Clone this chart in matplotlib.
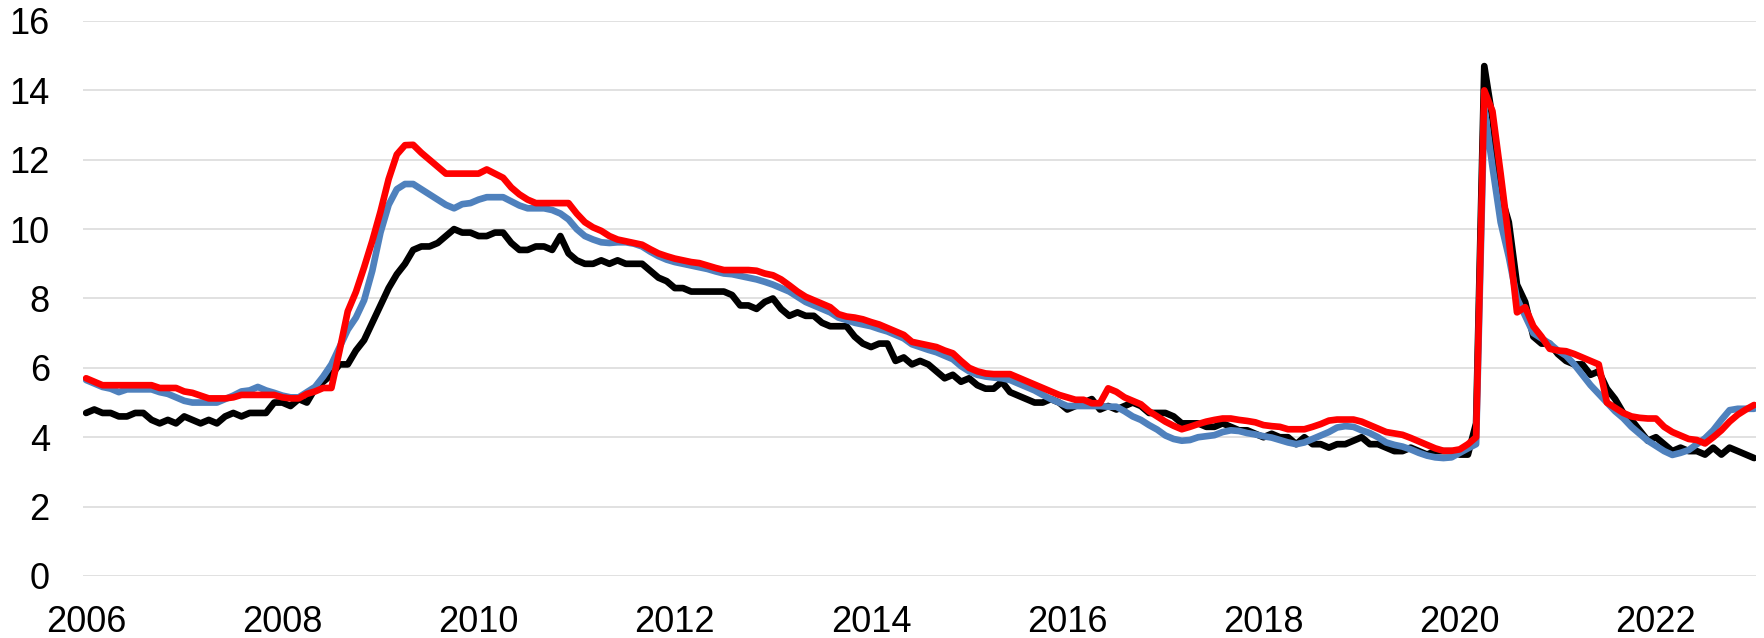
import matplotlib
matplotlib.use("Agg")
import matplotlib.pyplot as plt
import numpy as np

# monthly series, Jan 2006 .. Jan 2023
start_year = 2006
actual = [
    4.7, 4.8, 4.7, 4.7, 4.6, 4.6, 4.7, 4.7, 4.5, 4.4, 4.5, 4.4,
    4.6, 4.5, 4.4, 4.5, 4.4, 4.6, 4.7, 4.6, 4.7, 4.7, 4.7, 5.0,
    5.0, 4.9, 5.1, 5.0, 5.4, 5.6, 5.8, 6.1, 6.1, 6.5, 6.8, 7.3,
    7.8, 8.3, 8.7, 9.0, 9.4, 9.5, 9.5, 9.6, 9.8, 10.0, 9.9, 9.9,
    9.8, 9.8, 9.9, 9.9, 9.6, 9.4, 9.4, 9.5, 9.5, 9.4, 9.8, 9.3,
    9.1, 9.0, 9.0, 9.1, 9.0, 9.1, 9.0, 9.0, 9.0, 8.8, 8.6, 8.5,
    8.3, 8.3, 8.2, 8.2, 8.2, 8.2, 8.2, 8.1, 7.8, 7.8, 7.7, 7.9,
    8.0, 7.7, 7.5, 7.6, 7.5, 7.5, 7.3, 7.2, 7.2, 7.2, 6.9, 6.7,
    6.6, 6.7, 6.7, 6.2, 6.3, 6.1, 6.2, 6.1, 5.9, 5.7, 5.8, 5.6,
    5.7, 5.5, 5.4, 5.4, 5.6, 5.3, 5.2, 5.1, 5.0, 5.0, 5.1, 5.0,
    4.8, 4.9, 5.0, 5.1, 4.8, 4.9, 4.8, 4.9, 5.0, 4.9, 4.7, 4.7,
    4.7, 4.6, 4.4, 4.4, 4.4, 4.3, 4.3, 4.4, 4.3, 4.2, 4.2, 4.1,
    4.0, 4.1, 4.0, 4.0, 3.8, 4.0, 3.8, 3.8, 3.7, 3.8, 3.8, 3.9,
    4.0, 3.8, 3.8, 3.7, 3.6, 3.6, 3.7, 3.6, 3.5, 3.6, 3.6, 3.6,
    3.5, 3.5, 4.4, 14.7, 13.2, 11.0, 10.2, 8.4, 7.9, 6.9, 6.7, 6.7,
    6.4, 6.2, 6.1, 6.1, 5.8, 5.9, 5.4, 5.1, 4.7, 4.5, 4.2, 3.9,
    4.0, 3.8, 3.6, 3.7, 3.6, 3.6, 3.5, 3.7, 3.5, 3.7, 3.6, 3.5,
    3.4,
]
estimate_blue = [
    5.65, 5.55, 5.45, 5.4, 5.3, 5.38, 5.38, 5.38, 5.38, 5.3, 5.25, 5.15,
    5.05, 5.0, 5.0, 5.0, 5.0, 5.1, 5.2, 5.32, 5.35, 5.45, 5.35, 5.28,
    5.2, 5.15, 5.15, 5.3, 5.45, 5.75, 6.1, 6.6, 7.1, 7.45, 7.95, 8.8,
    9.9, 10.7, 11.15, 11.3, 11.3, 11.15, 11.0, 10.85, 10.7, 10.6, 10.72, 10.75,
    10.85, 10.92, 10.92, 10.92, 10.8, 10.68, 10.6, 10.6, 10.6, 10.55, 10.45, 10.28,
    10.0, 9.8, 9.7, 9.62, 9.6, 9.62, 9.62, 9.58, 9.5, 9.35, 9.22, 9.12,
    9.05, 9.0, 8.95, 8.9, 8.85, 8.78, 8.72, 8.7, 8.65, 8.6, 8.55, 8.48,
    8.4, 8.3, 8.2, 8.05, 7.9, 7.8, 7.7, 7.6, 7.45, 7.38, 7.3, 7.25,
    7.2, 7.12, 7.05, 6.95, 6.85, 6.68, 6.6, 6.52, 6.45, 6.35, 6.25, 6.05,
    5.9, 5.8, 5.75, 5.72, 5.7, 5.65, 5.55, 5.45, 5.35, 5.22, 5.1, 5.0,
    4.9, 4.9, 4.9, 4.9, 4.9, 4.88, 4.88, 4.75, 4.6, 4.5, 4.35, 4.22,
    4.05, 3.95, 3.9, 3.92, 4.0, 4.03, 4.06, 4.15, 4.2, 4.18, 4.12, 4.08,
    4.03, 3.99, 3.92, 3.85, 3.8, 3.85, 3.95, 4.05, 4.15, 4.28, 4.32, 4.3,
    4.2, 4.12, 4.0, 3.85, 3.78, 3.73, 3.65, 3.55, 3.47, 3.42, 3.4, 3.42,
    3.55, 3.68, 3.8, 13.5, 11.8, 10.2, 9.2, 8.0, 7.5, 7.0, 6.85, 6.7,
    6.5, 6.35, 6.1, 5.8, 5.5, 5.25, 5.0, 4.75, 4.55, 4.3, 4.1, 3.9,
    3.75, 3.6, 3.49, 3.55, 3.63, 3.8, 3.97, 4.2, 4.5, 4.78, 4.82, 4.82,
    4.82,
]
estimate_red = [
    5.7, 5.6, 5.5, 5.5, 5.5, 5.5, 5.5, 5.5, 5.5, 5.42, 5.42, 5.42,
    5.32, 5.28, 5.2, 5.12, 5.12, 5.12, 5.15, 5.22, 5.22, 5.22, 5.22, 5.22,
    5.15, 5.12, 5.12, 5.25, 5.32, 5.42, 5.42, 6.5, 7.63, 8.19, 8.9, 9.66,
    10.5, 11.44, 12.15, 12.42, 12.43, 12.2, 12.0, 11.8, 11.6, 11.6, 11.6, 11.6,
    11.6, 11.72, 11.6, 11.48, 11.2, 11.0, 10.85, 10.75, 10.75, 10.75, 10.75, 10.75,
    10.45, 10.2, 10.05, 9.95, 9.8, 9.7, 9.65, 9.6, 9.55, 9.42, 9.3, 9.22,
    9.15, 9.1, 9.05, 9.02, 8.95, 8.88, 8.82, 8.82, 8.82, 8.82, 8.8, 8.72,
    8.67, 8.55, 8.38, 8.2, 8.05, 7.95, 7.85, 7.75, 7.55, 7.48, 7.45, 7.4,
    7.32, 7.25, 7.15, 7.05, 6.95, 6.75, 6.7, 6.65, 6.6, 6.5, 6.42, 6.2,
    6.0, 5.9, 5.84, 5.82, 5.82, 5.82, 5.72, 5.62, 5.52, 5.42, 5.32, 5.22,
    5.15, 5.08, 5.08, 4.98, 4.98, 5.41, 5.31, 5.15, 5.05, 4.95, 4.75, 4.6,
    4.45, 4.33, 4.23, 4.3, 4.38, 4.45, 4.5, 4.54, 4.54, 4.5, 4.47, 4.43,
    4.35, 4.32, 4.3, 4.23, 4.23, 4.23, 4.3, 4.38, 4.48, 4.51, 4.51, 4.51,
    4.45, 4.35, 4.25, 4.15, 4.11, 4.07, 3.98, 3.88, 3.78, 3.68, 3.61, 3.61,
    3.65, 3.8, 4.0, 14.0, 13.4, 11.6, 9.7, 7.6, 7.75, 7.2, 6.9, 6.55,
    6.5, 6.48, 6.4, 6.3, 6.2, 6.1, 5.0, 4.85, 4.7, 4.6, 4.56, 4.54,
    4.54, 4.3, 4.15, 4.05, 3.95, 3.92, 3.82, 4.0, 4.2, 4.45, 4.65, 4.8,
    4.93,
]
year_ticks = [2006, 2008, 2010, 2012, 2014, 2016, 2018, 2020, 2022]
y_ticks = [0, 2, 4, 6, 8, 10, 12, 14, 16]


def main():
    plt.rcParams['font.family'] = ['Liberation Sans', 'DejaVu Sans']

    months = np.arange(len(actual))
    x = start_year + months / 12

    fig = plt.figure(figsize=(17.64, 6.38), dpi=100)
    ax = fig.add_axes([0.0471, 0.0972, 0.9484, 0.8699])

    style = dict(linewidth=4.8, solid_joinstyle='round', solid_capstyle='round')
    ax.plot(x, actual, color='black', **style)
    ax.plot(x, estimate_blue, color='#4f81bd', **style)
    ax.plot(x, estimate_red, color='#ff0000', **style)

    ax.set_ylim(0, 16)
    ax.set_xlim(start_year - 0.37 / 12, start_year + 204.24 / 12)
    ax.set_yticks(y_ticks)
    ax.set_xticks(year_ticks)
    ax.set_xticklabels([str(y) for y in year_ticks])
    ax.yaxis.grid(True, color='#d9d9d9', linewidth=1.1)
    ax.set_axisbelow(True)
    for s in ax.spines.values():
        s.set_visible(False)
    ax.tick_params(axis='both', length=0, labelsize=26)
    ax.tick_params(axis='y', pad=24)
    ax.tick_params(axis='x', pad=21)

    fig.savefig('out.png', dpi=100)


if __name__ == "__main__":
    main()
